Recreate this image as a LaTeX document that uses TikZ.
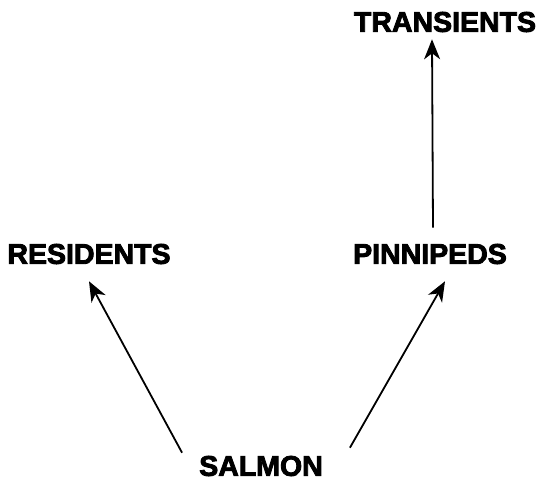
\documentclass[tikz,border=0pt]{standalone}
\usepackage{fontspec}
\newfontfamily\heavy[FakeBold=3]{Liberation Sans Bold}
\usetikzlibrary{arrows.meta}
\begin{document}
\begin{tikzpicture}[x=1pt,y=-1pt,
  lbl/.style={inner sep=0pt,font=\heavy\fontsize{28.5}{32}\selectfont},
  arr/.style={line width=1.8pt,-{Stealth[length=20pt,width=16pt,inset=6pt]}}]
\useasboundingbox (0,0) rectangle (547,490);
\node[lbl] (tra) at (445,22) {TRANSIENTS};
\node[lbl] (res) at (89,254) {RESIDENTS};
\node[lbl] (pin) at (430,254) {PINNIPEDS};
\node[lbl] (sal) at (261,466) {SALMON};
\draw[arr] ([xshift=-17pt,yshift=3pt]sal.north west) -- ([yshift=-17pt]res.south);
\draw[arr] ([xshift=27pt,yshift=8pt]sal.north east) -- ([xshift=15pt,yshift=-17pt]pin.south);
\draw[arr] ([xshift=3pt,yshift=16pt]pin.north) -- ([xshift=-13pt,yshift=-7pt]tra.south);
\end{tikzpicture}
\end{document}
